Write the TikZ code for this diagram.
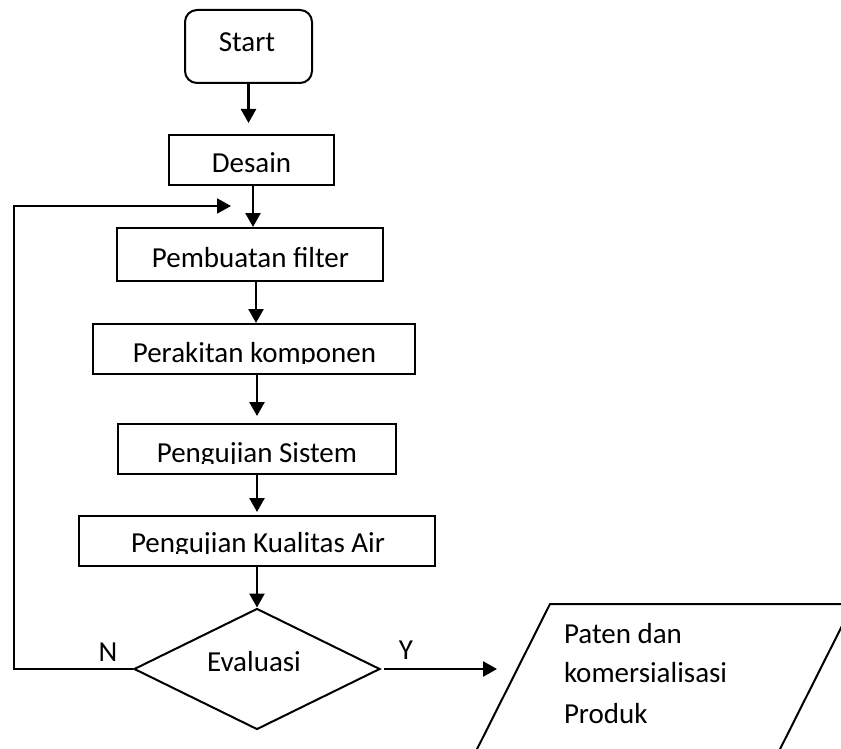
\documentclass[tikz,border=0pt]{standalone}
\usepackage{fontspec}
\setmainfont{Carlito}
\usetikzlibrary{shapes.geometric,arrows.meta}
\begin{document}
\begin{tikzpicture}[x=1pt,y=-1pt,line width=2pt,
  >={Triangle[length=14pt,width=15pt]},
  conn/.style={->,line width=2.6pt},
  box/.style={draw,rectangle,inner sep=0pt},
  txt/.style={inner sep=0pt,anchor=base,font=\fontsize{29pt}{40pt}\selectfont},
  lbl/.style={inner sep=0pt,font=\fontsize{29pt}{40pt}\selectfont}]
\useasboundingbox (0,0) rectangle (841,749);
\clip (0,0) rectangle (841,749);
% boxes
\node[box,rounded corners=12pt,minimum width=127pt,minimum height=73pt] (start) at (248.5,46.5) {};
\node[box,minimum width=165pt,minimum height=50pt] (desain) at (251.5,160) {};
\node[box,minimum width=266pt,minimum height=53pt] (pemb) at (250,254.5) {};
\node[box,minimum width=322pt,minimum height=50pt] (rakit) at (254,349) {};
\node[box,minimum width=278pt,minimum height=50pt] (uji) at (257,449) {};
\node[box,minimum width=356pt,minimum height=50pt] (air) at (257,541) {};
\node[draw,diamond,inner sep=0pt,minimum width=246pt,minimum height=121pt] (eval) at (257,669) {};
% texts
\node[txt] (tstart) at (247,52) {Start};
\node[txt] (tdesain) at (251.5,173) {Desain};
\node[txt] (tpemb) at (250.5,267) {Pembuatan filter};
\begin{scope}
  \clip (93,324) rectangle (415,363);
  \node[txt] (trakit) at (254.5,362) {Perakitan komponen};
\end{scope}
\begin{scope}
  \clip (118,424) rectangle (396,463);
  \node[txt] (tuji) at (257,462) {Pengujian Sistem};
\end{scope}
\begin{scope}
  \clip (79,516) rectangle (435,553);
  \node[txt] (tair) at (258,552) {Pengujian Kualitas Air};
\end{scope}
\node[txt] (teval) at (254,671) {Evaluasi};
% output parallelogram
\draw (550,604) -- (853,604) -- (764.5,780) -- (461.5,780) -- cycle;
\node[txt,anchor=base west] (tp1) at (563,643) {Paten dan};
\node[txt,anchor=base west] (tp2) at (563,682) {komersialisasi};
\node[txt,anchor=base west] (tp3) at (563,723) {Produk};
% labels
\node[lbl] (ln) at (108,652) {N};
\node[lbl] (ly) at (406,650) {Y};
% connectors
\coordinate (fb) at (231,206);
\coordinate (loop) at (14,206);
\coordinate (out) at (497,669);
\draw[conn,shorten >=11pt] (start.south) -- (start.south |- desain.north);
\draw[conn] ([xshift=1.5pt]desain.south) -- ([xshift=1.5pt]desain.south |- pemb.north);
\draw[conn] ([xshift=6pt]pemb.south) -- ([xshift=6pt]pemb.south |- rakit.north);
\draw[conn,shorten >=7pt] ([xshift=3pt]rakit.south) -- ([xshift=3pt]rakit.south |- uji.north);
\draw[conn,shorten >=3pt] (uji.south) -- (uji.south |- air.north);
\draw[conn] (air.south) -- (eval.north);
\draw[->] (eval.west) -| (loop) -- (fb);
\draw[conn] ([xshift=3pt]eval.east) -- (out);
\end{tikzpicture}
\end{document}
